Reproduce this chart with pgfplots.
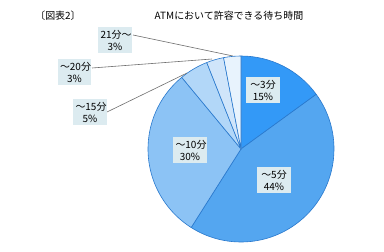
\documentclass[border=0pt]{standalone}
\usepackage{pgfplots}
\pgfplotsset{compat=1.18}
\usepackage{fontspec}
\setmainfont{Noto Sans CJK JP}
\definecolor{cA}{RGB}{51,153,247}
\definecolor{cB}{RGB}{84,166,240}
\definecolor{cC}{RGB}{140,195,245}
\definecolor{cD}{RGB}{178,215,248}
\definecolor{cE}{RGB}{208,229,250}
\definecolor{cF}{RGB}{232,243,253}
\definecolor{edge}{RGB}{40,120,205}
\definecolor{boxc}{RGB}{220,235,240}
\definecolor{lead}{RGB}{110,110,110}
\tikzset{lbl/.style={fill=boxc, align=center, inner xsep=2.5pt, inner ysep=3pt, text width=29bp}}
\newcommand\R{93bp}
\newcommand\slice[3]{\filldraw[fill=#3, draw=edge, line width=0.6pt, line join=round]
  (axis cs:241,103) -- ++(#1:\R) arc[start angle=#1, end angle=#2, radius=\R] -- cycle;}
\begin{document}
\begin{tikzpicture}
% data (percent), clockwise from 12 o'clock
\def\vA{15}\def\vB{44}\def\vC{30}\def\vD{5}\def\vE{3}\def\vF{3}
\pgfmathsetmacro\aA{90}
\pgfmathsetmacro\aB{\aA-3.6*\vA}
\pgfmathsetmacro\aC{\aB-3.6*\vB}
\pgfmathsetmacro\aD{\aC-3.6*\vC}
\pgfmathsetmacro\aE{\aD-3.6*\vD}
\pgfmathsetmacro\aF{\aE-3.6*\vE}
\pgfmathsetmacro\aG{\aF-3.6*\vF}
\fill[white] (0,0) rectangle (384bp,252bp);
\begin{axis}[
  x=1bp, y=1bp, xmin=0, xmax=384, ymin=0, ymax=252,
  hide axis, clip=false, at={(0,0)}, anchor=south west,
  every node/.style={font=\fontsize{9}{11.5}\selectfont, text=black!85},
]
\addplot[draw=none] coordinates {(0,0) (384,252)};
\slice{\aA}{\aB}{cA}
\slice{\aB}{\aC}{cB}
\slice{\aC}{\aD}{cC}
\slice{\aD}{\aE}{cD}
\slice{\aE}{\aF}{cE}
\slice{\aF}{\aG}{cF}
% leader lines
\draw[lead, line width=0.6pt] (axis cs:133,217) -- (axis cs:233,196);
\draw[lead, line width=0.6pt] (axis cs:92,184) -- (axis cs:212,193);
\draw[lead, line width=0.6pt] (axis cs:107,140) -- (axis cs:187,179);
% labels
\node[lbl] at (axis cs:263,162) {～3分\\15\%};
\node[lbl] at (axis cs:274,72) {～5分\\44\%};
\node[lbl] at (axis cs:190,102) {～10分\\30\%};
\node[lbl] at (axis cs:90,140) {～15分\\5\%};
\node[lbl] at (axis cs:74.5,180) {～20分\\3\%};
\node[lbl] at (axis cs:115,212) {21分～\\3\%};
\node at (axis cs:229,236) {ATMにおいて許容できる待ち時間};
\node at (axis cs:58,236) {〔図表2〕};
\end{axis}
\end{tikzpicture}
\end{document}
